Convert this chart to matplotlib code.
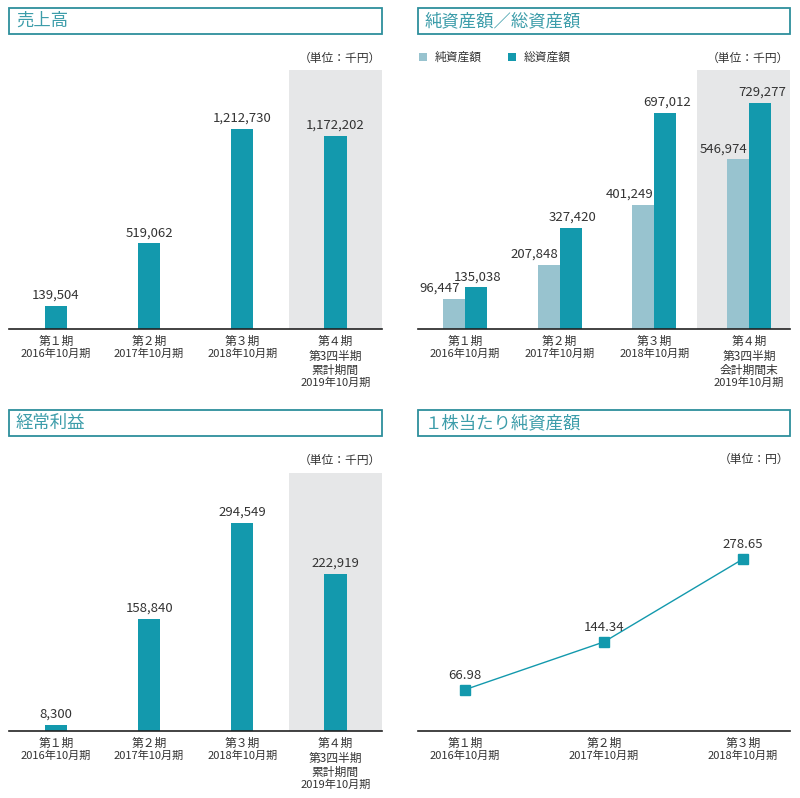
import matplotlib

matplotlib.use("Agg")

import matplotlib.pyplot as plt
from matplotlib.patches import Rectangle

plt.rcParams["font.family"] = ["Noto Sans CJK JP", "DejaVu Sans"]

# data
sales_periods = ["第１期\n2016年10月期", "第２期\n2017年10月期", "第３期\n2018年10月期",
                 "第４期\n第3四半期\n累計期間\n2019年10月期"]
sales = [139504, 519062, 1212730, 1172202]

asset_periods = ["第１期\n2016年10月期", "第２期\n2017年10月期", "第３期\n2018年10月期",
                 "第４期\n第3四半期\n会計期間末\n2019年10月期"]
net_assets = [96447, 207848, 401249, 546974]
total_assets = [135038, 327420, 697012, 729277]

profit_periods = sales_periods
ordinary_profit = [8300, 158840, 294549, 222919]

bps_periods = ["第１期\n2016年10月期", "第２期\n2017年10月期", "第３期\n2018年10月期"]
bps = [66.98, 144.34, 278.65]

# style
W, H = 800, 798
DARK = "#1399AD"
LIGHT = "#98C3CF"
BAND = "#E6E7E8"
FRAME = "#2D8F9C"
TITLE = "#3D9DAA"
TEXT = "#333333"
PT = 72 / 100  # points per pixel

fig = plt.figure(figsize=(W / 100, H / 100), dpi=100)


def px_axes(left, top, right, bottom):
    return fig.add_axes([left / W, 1 - bottom / H, (right - left) / W, (bottom - top) / H])


def title_box(left, top, right, bottom, text):
    fig.add_artist(Rectangle((left / W, 1 - bottom / H), (right - left) / W, (bottom - top) / H,
                             transform=fig.transFigure, fill=False, edgecolor=FRAME, lw=1.3))
    fig.text((left + 7) / W, 1 - (top + bottom) / 2 / H, text, color=TITLE, fontsize=12.5,
             va="center", ha="left")


def unit_label(right, y, text):
    fig.text(right / W, 1 - y / H, text, color=TEXT, fontsize=8.5, ha="right", va="center")


def style_axis(axis):
    for side in ["top", "left", "right"]:
        axis.spines[side].set_visible(False)
    axis.spines["bottom"].set_color("#222222")
    axis.spines["bottom"].set_linewidth(1.2)
    axis.set_xticks([])
    axis.set_yticks([])
    axis.patch.set_alpha(0)


def period_labels(axis, positions, labels):
    for x, label in zip(positions, labels):
        lines = label.split("\n")
        offsets = [12, 25] if len(lines) == 2 else [12, 27, 41, 54]
        for idx, (line, off) in enumerate(zip(lines, offsets)):
            size = 8.5 if (idx == 0 or (len(lines) == 4 and idx < 3)) else 8
            axis.annotate(line, (x, 0), xycoords=("data", "axes fraction"),
                          xytext=(0, -off * PT), textcoords="offset points",
                          ha="center", va="center", fontsize=size, color=TEXT,
                          annotation_clip=False)


def value_label(axis, x, y, text, dx=0, dy=4):
    axis.annotate(text, (x, y), xytext=(dx * PT, dy * PT), textcoords="offset points",
                  ha="center", va="bottom", fontsize=9.5, color=TEXT)


# panel 1: 売上高
title_box(9, 8, 382, 34, "売上高")
unit_label(381, 58, "（単位：千円）")
ax1 = px_axes(9, 70, 382, 329)
x = range(len(sales))
ax1.axvspan(2.5, 3.5, color=BAND, lw=0, zorder=0)
ax1.bar(x, sales, width=0.24, color=DARK, zorder=2)
for i, v in zip(x, sales):
    value_label(ax1, i, v, f"{v:,}")
ax1.set_xlim(-0.505, 3.5)
ax1.set_ylim(0, max(sales) * 1.295)
style_axis(ax1)
period_labels(ax1, x, sales_periods)

# panel 2: 純資産額／総資産額
title_box(418, 8, 790, 34, "純資産額／総資産額")
unit_label(789, 58, "（単位：千円）")
fig.add_artist(Rectangle((419 / W, 1 - 61 / H), 8 / W, 8 / H, transform=fig.transFigure,
                         color=LIGHT, lw=0))
fig.text(435 / W, 1 - 57 / H, "純資産額", fontsize=8.5, color=TEXT, va="center")
fig.add_artist(Rectangle((508 / W, 1 - 61 / H), 8 / W, 8 / H, transform=fig.transFigure,
                         color=DARK, lw=0))
fig.text(524 / W, 1 - 57 / H, "総資産額", fontsize=8.5, color=TEXT, va="center")
ax2 = px_axes(418, 70, 790, 329)
x = range(len(net_assets))
w = 0.232
ax2.axvspan(2.45, 3.5, color=BAND, lw=0, zorder=0)
ax2.bar([i - w / 2 for i in x], net_assets, width=w, color=LIGHT, zorder=2)
ax2.bar([i + w / 2 for i in x], total_assets, width=w, color=DARK, zorder=2)
for i, a, b in zip(x, net_assets, total_assets):
    value_label(ax2, i - w / 2, a, f"{a:,}", dx=-14)
    value_label(ax2, i + w / 2, b, f"{b:,}", dx=2)
ax2.set_xlim(-0.496, 3.433)
ax2.set_ylim(0, max(total_assets) * 1.146)
style_axis(ax2)
period_labels(ax2, x, asset_periods)

# panel 3: 経常利益
title_box(9, 410, 382, 436, "経常利益")
unit_label(381, 460, "（単位：千円）")
ax3 = px_axes(9, 473, 382, 731)
x = range(len(ordinary_profit))
ax3.axvspan(2.5, 3.5, color=BAND, lw=0, zorder=0)
ax3.bar(x, ordinary_profit, width=0.24, color=DARK, zorder=2)
for i, v in zip(x, ordinary_profit):
    value_label(ax3, i, v, f"{v:,}")
ax3.set_xlim(-0.505, 3.5)
ax3.set_ylim(0, max(ordinary_profit) * 1.240)
style_axis(ax3)
period_labels(ax3, x, profit_periods)

# panel 4: １株当たり純資産額
title_box(418, 410, 790, 436, "１株当たり純資産額")
unit_label(789, 459, "（単位：円）")
ax4 = px_axes(418, 473, 790, 731)
x = range(len(bps))
ax4.plot(x, bps, color=DARK, lw=1, marker="s", markersize=7, zorder=3)
for i, v in zip(x, bps):
    value_label(ax4, i, v, f"{v:.2f}", dy=8)
ax4.set_xlim(-0.338, 2.338)
ax4.set_ylim(0, max(bps) * 1.5)
style_axis(ax4)
period_labels(ax4, x, bps_periods)

fig.savefig("out.png", dpi=100)
plt.close(fig)
